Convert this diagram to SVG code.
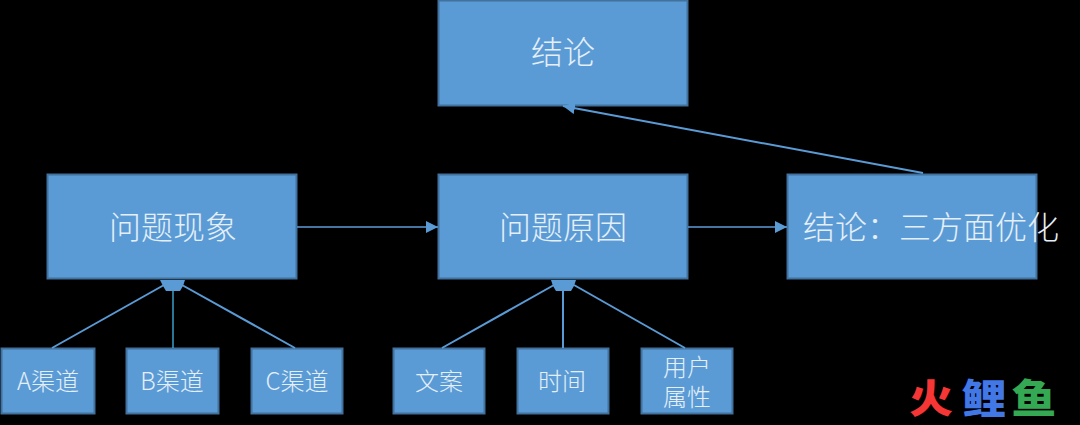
<svg xmlns="http://www.w3.org/2000/svg" width="1080" height="425" viewBox="0 0 1080 425">
<style>
.b{fill:#5b9bd5;stroke:#41719c;stroke-width:2}
text{font-family:"Noto Sans CJK SC","Liberation Sans",sans-serif;fill:#e4eff9;text-anchor:middle;font-weight:300}
.l{font-size:32px}
.s{font-size:24px}
.c{fill:none;stroke:#5b9bd5;stroke-width:2}
.t{stroke-width:1.3}
.h{fill:#5b9bd5;stroke:none}
text.logo{font-size:40px;font-weight:900}
</style>
<defs>
<marker id="a" markerUnits="userSpaceOnUse" markerWidth="14" markerHeight="14" refX="12" refY="6" orient="auto"><path d="M0 0L12 6L0 12Z" fill="#5b9bd5"/></marker>
</defs>
<rect width="1080" height="425" fill="#000"/>
<g id="n1"><rect class="b" x="438.500" y="0.500" width="249" height="105"/><text class="l" x="563" y="64">结论</text></g>
<g id="n2"><rect class="b" x="47.500" y="174.500" width="249" height="104"/><text class="l" x="173" y="239">问题现象</text></g>
<g id="n3"><rect class="b" x="438.500" y="174.500" width="249" height="104"/><text class="l" x="563" y="239">问题原因</text></g>
<g id="n4"><rect class="b" x="787.500" y="174.500" width="249" height="104"/><text class="l" x="931" y="239">结论：三方面优化</text></g>
<g id="n5"><rect class="b" x="1.500" y="348.500" width="93" height="65"/><text class="s" x="48" y="390">A渠道</text></g>
<g id="n6"><rect class="b" x="126.500" y="348.500" width="92" height="65"/><text class="s" x="172" y="390">B渠道</text></g>
<g id="n7"><rect class="b" x="251.500" y="348.500" width="91" height="65"/><text class="s" x="297" y="390">C渠道</text></g>
<g id="n8"><rect class="b" x="393.500" y="348.500" width="91" height="65"/><text class="s" x="439" y="390">文案</text></g>
<g id="n9"><rect class="b" x="517.500" y="348.500" width="91" height="65"/><text class="s" x="562" y="390">时间</text></g>
<g id="n10"><rect class="b" x="641.500" y="348.500" width="91" height="65"/><text class="s" x="687" y="376">用户<tspan x="687" dy="30">属性</tspan></text></g>
<g id="connectors">
<path class="c t" d="M297 227H438" marker-end="url(#a)"/>
<path class="c t" d="M688 227H787" marker-end="url(#a)"/>
<path class="c" d="M923 173L563 106" marker-end="url(#a)"/>
<path class="c" d="M52 348L164 285"/>
<path class="c t" d="M173 348V290" style="stroke:#41b6e6"/>
<path class="c" d="M295 348L182 285"/>
<path class="c" d="M442 348L554 285"/>
<path class="c" d="M563 348V290"/>
<path class="c" d="M685 348L574 285"/>
<path class="h" d="M160 280H185L183 286L180 291H166L163 286Z"/>
<path class="h" d="M551 280H576L574 286L571 291H556L553 286Z"/>
</g>
<g id="logo"><text class="logo" transform="translate(931 413) scale(1.1 1)" style="fill:#f63535">火</text><text class="logo" transform="translate(984 413) scale(1.12 1)" style="fill:#4277e6">鲤</text><text class="logo" transform="translate(1034 413) scale(1.12 1)" style="fill:#34a853">鱼</text></g>
</svg>
